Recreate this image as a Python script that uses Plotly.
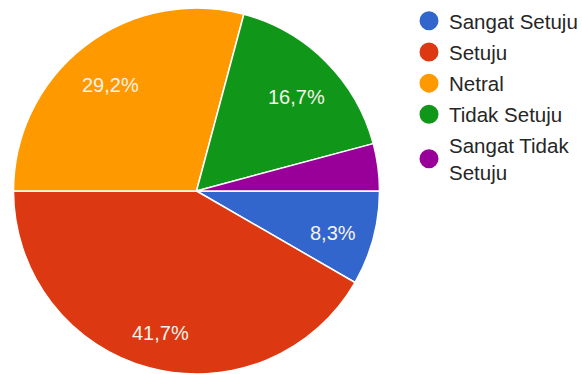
import math
import plotly.graph_objects as go

# Survey answers and their counts
labels = ["Sangat Setuju", "Setuju", "Netral", "Tidak Setuju", "Sangat Tidak Setuju"]
legend_names = ["Sangat Setuju", "Setuju", "Netral", "Tidak Setuju", "Sangat Tidak<br>Setuju"]
counts = [2, 10, 7, 4, 1]
colors = ["#3366cc", "#dc3912", "#ff9900", "#109618", "#990099"]

W, H = 582, 374
TOP = 8
dom_x = [12 / W, 381 / W]
dom_y = [0.0, 1.0]

fig = go.Figure()
fig.add_trace(go.Pie(
    labels=labels,
    values=counts,
    marker=dict(colors=colors, line=dict(color="white", width=1.5)),
    sort=False,
    direction="clockwise",
    rotation=90,
    textinfo="none",
    hoverinfo="label+percent",
    showlegend=False,
    domain=dict(x=dom_x, y=dom_y),
))

# Percentage labels placed along each slice's bisector
total = sum(counts)
plot_h = H - TOP
cx = (dom_x[0] + dom_x[1]) / 2 * W
cy = TOP + plot_h / 2
r = min((dom_x[1] - dom_x[0]) * W, plot_h) / 2
cum = 0.0
for v in counts:
    share = v / total
    mid = -(cum + share / 2) * 2 * math.pi
    cum += share
    if share < 0.05:
        continue
    px = cx + 0.77 * r * math.cos(mid)
    py = cy - 0.77 * r * math.sin(mid)
    txt = f"{share * 100:.1f}%".replace(".", ",")
    fig.add_annotation(
        x=px / W, y=(H - py) / plot_h, xref="paper", yref="paper",
        text=txt, showarrow=False, yshift=-6,
        font=dict(family="Liberation Sans, Arial, sans-serif", size=20, color="#f6f2ea"),
        xanchor="center", yanchor="middle",
    )

# Circular legend swatches
for i, (name, col) in enumerate(zip(legend_names, colors)):
    fig.add_trace(go.Scatter(
        x=[None], y=[None], mode="markers", name=name,
        marker=dict(symbol="circle", size=16, color=col, line=dict(color=col, width=3)),
        legendgroup=f"g{i}", showlegend=True, hoverinfo="skip",
    ))

fig.update_layout(
    width=W, height=H,
    margin=dict(l=0, r=0, t=TOP, b=0, autoexpand=False),
    paper_bgcolor="white", plot_bgcolor="white",
    xaxis=dict(visible=False), yaxis=dict(visible=False),
    legend=dict(
        xref="container", yref="container",
        x=409 / W, y=1 - 1 / H, xanchor="left", yanchor="top",
        font=dict(family="Liberation Sans, Arial, sans-serif", size=20.5, color="#262626"),
        traceorder="grouped", tracegroupgap=1.5,
        bgcolor="rgba(0,0,0,0)", itemclick=False, itemdoubleclick=False,
    ),
)

fig.write_html("out.html")
